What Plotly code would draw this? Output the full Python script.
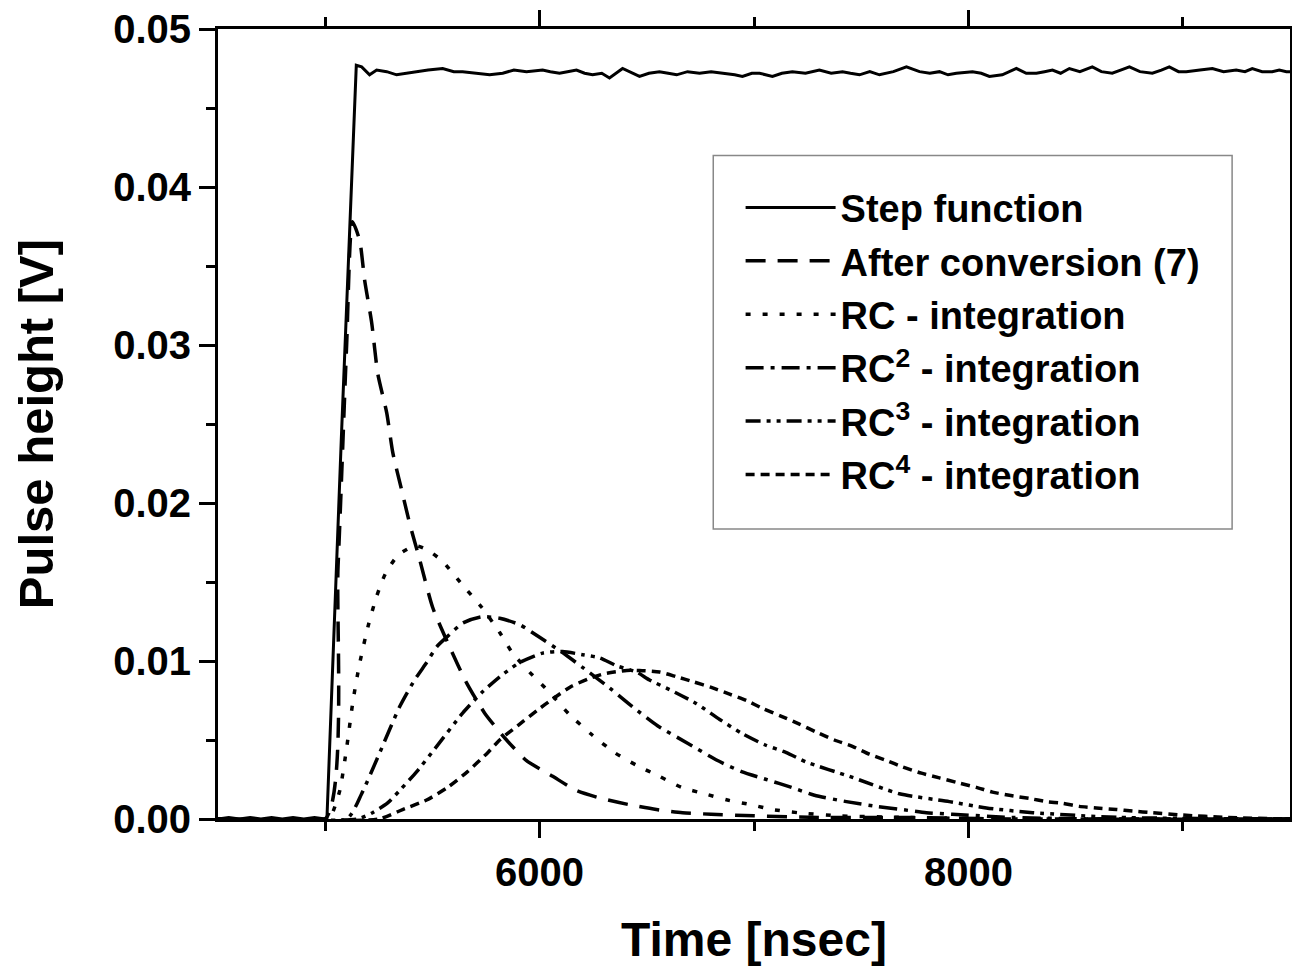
import plotly.graph_objects as go

# ---------------- data ----------------
step_t = [4500, 4550, 4600, 4650, 4700, 4750, 4800, 4850, 4900, 4950, 5000, 5008, 5075, 5145,
          5170, 5207, 5240, 5287, 5333, 5380, 5427, 5480, 5548, 5600, 5641, 5700, 5767, 5828,
          5880, 5939, 6014, 6050, 6093, 6130, 6172, 6210, 6247, 6290, 6326, 6387, 6430, 6466,
          6510, 6559, 6600, 6639, 6690, 6746, 6800, 6872, 6910, 6946, 6990, 7026, 7086, 7130,
          7179, 7240, 7305, 7360, 7413, 7450, 7492, 7540, 7585, 7650, 7711, 7772, 7820, 7865,
          7905, 7944, 8019, 8060, 8098, 8158, 8224, 8270, 8317, 8355, 8392, 8430, 8471, 8520,
          8578, 8620, 8671, 8710, 8751, 8800, 8858, 8900, 8937, 8980, 9016, 9080, 9138, 9190,
          9249, 9290, 9324, 9370, 9417, 9450, 9483, 9500]
step_v = [0.0000, 0.0001, 0.0000, 0.0001, 0.0000, 0.0001, 0.0000, 0.0001, 0.0000, 0.0001, 0.0000,
          0.0000, 0.0240, 0.0477,
          0.0476, 0.0471, 0.0474, 0.0473, 0.0471, 0.0472, 0.0473, 0.0474, 0.0475, 0.0473, 0.0473,
          0.0472, 0.0471, 0.0472, 0.0474, 0.0473, 0.0474, 0.0473, 0.0472, 0.0473, 0.0474, 0.0472,
          0.0471, 0.0472, 0.0469, 0.0475, 0.0472, 0.0470, 0.0472, 0.0473, 0.0472, 0.0471, 0.0473,
          0.0472, 0.0473, 0.0472, 0.0471, 0.0470, 0.0472, 0.0472, 0.0470, 0.0472, 0.0473, 0.0472,
          0.0474, 0.0472, 0.0473, 0.0472, 0.0471, 0.0473, 0.0471, 0.0473, 0.0476, 0.0473, 0.0472,
          0.0473, 0.0471, 0.0472, 0.0473, 0.0472, 0.0470, 0.0471, 0.0475, 0.0472, 0.0472, 0.0473,
          0.0474, 0.0472, 0.0475, 0.0473, 0.0476, 0.0473, 0.0472, 0.0474, 0.0476, 0.0473, 0.0472,
          0.0474, 0.0476, 0.0473, 0.0473, 0.0474, 0.0475, 0.0473, 0.0474, 0.0473, 0.0475, 0.0473,
          0.0473, 0.0474, 0.0473, 0.0473]

conv_t = [4500, 5000, 5060, 5100, 5127, 5161, 5184, 5217, 5245, 5287, 5315, 5357, 5394, 5441,
          5501, 5580, 5660, 5744, 5846, 5939, 6061, 6172, 6289, 6420, 6545, 6667, 6800, 7000,
          7300, 7700, 8200, 8800, 9500]
conv_v = [0.0, 0.0, 0.0160, 0.0300, 0.0378, 0.0366, 0.0341, 0.0314, 0.0282, 0.0257, 0.0232,
          0.0208, 0.0187, 0.0164, 0.0134, 0.0109, 0.0086, 0.0067, 0.0050, 0.0037, 0.0027,
          0.0018, 0.0013, 0.0009, 0.0006, 0.0004, 0.0003, 0.0002, 0.0001, 0.0001, 0.0, 0.0, 0.0]

rc1_t = [4500, 5000, 5030, 5068, 5100, 5130, 5160, 5200, 5240, 5280, 5340, 5420, 5480, 5548,
         5641, 5730, 5814, 5874, 5953, 6047, 6140, 6247, 6350, 6452, 6559, 6662, 6769, 6876,
         6988, 7086, 7203, 7400, 7700, 8200, 9500]
rc1_v = [0.0, 0.0, 0.0003, 0.0018, 0.0045, 0.0075, 0.0098, 0.0122, 0.0141, 0.0155, 0.0167,
         0.0173, 0.0170, 0.0163, 0.0148, 0.0134, 0.0118, 0.0105, 0.0093, 0.0080, 0.0066,
         0.0053, 0.0042, 0.0034, 0.0027, 0.0020, 0.0016, 0.0012, 0.0009, 0.0006, 0.0004,
         0.0002, 0.0001, 0.0, 0.0]

rc2_t = [4500, 5100, 5170, 5245, 5347, 5417, 5473, 5520, 5566, 5641, 5730, 5814, 5907, 6000,
         6100, 6200, 6326, 6434, 6550, 6690, 6830, 6942, 7058, 7175, 7282, 7431, 7571, 7688,
         7804, 7925, 8200, 8600, 9500]
rc2_v = [0.0, 0.0, 0.0016, 0.0039, 0.0071, 0.0088, 0.0099, 0.0109, 0.0115, 0.0124, 0.0128,
         0.0127, 0.0123, 0.0115, 0.0106, 0.0096, 0.0083, 0.0071, 0.0059, 0.0048, 0.0037,
         0.0030, 0.0025, 0.0020, 0.0015, 0.0011, 0.0008, 0.0006, 0.0004, 0.0003, 0.0001,
         0.0, 0.0]

rc3_t = [4500, 5150, 5221, 5290, 5347, 5427, 5520, 5641, 5730, 5814, 5907, 6014, 6107, 6200,
         6280, 6359, 6452, 6513, 6620, 6732, 6840, 6946, 7050, 7151, 7245, 7445, 7678, 7911,
         8084, 8300, 8700, 9500]
rc3_v = [0.0, 0.0, 0.0004, 0.0010, 0.0018, 0.0030, 0.0046, 0.0067, 0.0080, 0.0090, 0.0099,
         0.0105, 0.0106, 0.0104, 0.0102, 0.0097, 0.0093, 0.0088, 0.0081, 0.0073, 0.0063,
         0.0054, 0.0047, 0.0042, 0.0036, 0.0027, 0.0016, 0.0011, 0.0007, 0.0004, 0.0001, 0.0]

rc4_t = [4500, 5250, 5361, 5473, 5571, 5664, 5758, 5814, 5897, 5991, 6061, 6149, 6233, 6303,
         6406, 6466, 6560, 6639, 6713, 6807, 6886, 6965, 7040, 7128, 7212, 7291, 7375, 7459,
         7538, 7618, 7692, 7781, 7865, 7949, 8037, 8112, 8191, 8284, 8364, 8438, 8517, 8597,
         8690, 8765, 8858, 9000, 9200, 9500]
rc4_v = [0.0, 0.0, 0.0006, 0.0012, 0.0020, 0.0030, 0.0042, 0.0050, 0.0059, 0.0069, 0.0076,
         0.0084, 0.0089, 0.0092, 0.0094, 0.0094, 0.0093, 0.0090, 0.0087, 0.0083, 0.0079,
         0.0075, 0.0070, 0.0065, 0.0060, 0.0055, 0.0050, 0.0046, 0.0041, 0.0037, 0.0033,
         0.0029, 0.0026, 0.0023, 0.0020, 0.0017, 0.0015, 0.0013, 0.0011, 0.0010, 0.0008,
         0.0007, 0.0006, 0.0005, 0.0004, 0.00025, 0.0001, 0.0]

series_names = ["Step function", "After conversion (7)", "RC - integration",
                "RC<sup>2</sup> - integration", "RC<sup>3</sup> - integration",
                "RC<sup>4</sup> - integration"]
x_ticks = [6000, 8000]
y_ticks = [0.00, 0.01, 0.02, 0.03, 0.04, 0.05]

# ---------------- figure ----------------
FONT = "Liberation Sans"
series = [(step_t, step_v, "solid", "linear", 3),
          (conv_t, conv_v, "20px,12px", "spline", 3.5),
          (rc1_t, rc1_v, "5px,12px", "spline", 3.5),
          (rc2_t, rc2_v, "18px,7px,4px,7px", "spline", 3.5),
          (rc3_t, rc3_v, "15px,6px,4px,6px,4px,6px", "spline", 3.5),
          (rc4_t, rc4_v, "9px,6px", "spline", 3.5)]

fig = go.Figure()
for i, ((tx, vy, dash, shape, w), name) in enumerate(zip(series, series_names)):
    fig.add_trace(go.Scatter(
        x=tx, y=vy, mode="lines", name=name, legendgroup=f"g{i}",
        line=dict(color="black", width=w, dash=dash, shape=shape,
                  **({"smoothing": 0.6} if shape == "spline" else {})),
    ))

axis_common = dict(
    showline=True, linecolor="black", linewidth=3, mirror="ticks",
    ticks="outside", tickcolor="black", tickwidth=3, ticklen=16,
    showgrid=False, zeroline=False, automargin=False,
    tickfont=dict(family=FONT, size=40, color="black", weight="bold"),
)

fig.update_layout(
    width=1292, height=968,
    paper_bgcolor="white", plot_bgcolor="white",
    margin=dict(l=218, r=2, t=29, b=149),
    font=dict(family=FONT, color="black"),
    xaxis=dict(range=[4500, 9500], tickvals=x_ticks,
               ticktext=[str(v) for v in x_ticks],
               minor=dict(dtick=1000, tick0=0, ticks="outside", ticklen=9,
                          tickwidth=3, tickcolor="black"),
               title=dict(text="Time [nsec]", standoff=30,
                          font=dict(family=FONT, size=48, color="black", weight="bold")),
               **axis_common),
    yaxis=dict(range=[0, 0.05], tickvals=y_ticks, tickformat=".2f",
               minor=dict(dtick=0.005, tick0=0, ticks="outside", ticklen=9,
                          tickwidth=3, tickcolor="black"),
               title=dict(text="Pulse height [V]", standoff=44,
                          font=dict(family=FONT, size=49, color="black", weight="bold")),
               **axis_common),
    legend=dict(x=0.4875, y=0.8136, xanchor="left", yanchor="top",
                bgcolor="rgba(0,0,0,0)", borderwidth=0,
                itemwidth=90, tracegroupgap=1,
                font=dict(family=FONT, size=38, color="black", weight="bold")),
    shapes=[dict(type="rect", xref="paper", yref="paper",
                 x0=0.462, x1=0.946, y0=0.367, y1=0.840,
                 line=dict(color="#888888", width=1.5), fillcolor="white", layer="below")],
    showlegend=True,
)

fig.write_html("out.html",
               config={"displayModeBar": False},
               post_script="document.body.style.margin='0px';"
                           "document.body.style.overflow='hidden';")
